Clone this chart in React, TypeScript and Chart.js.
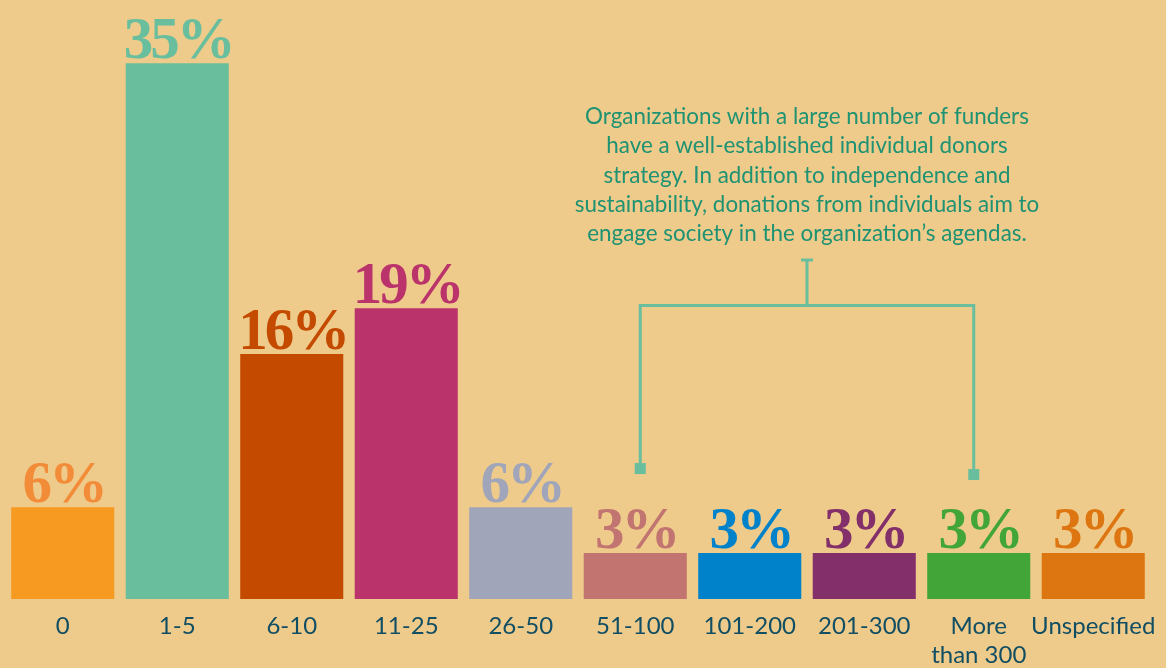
import { useEffect, useRef } from 'react';
import { Chart, registerables } from 'chart.js';

Chart.register(...registerables);

const categories: (string | string[])[] = ['0', '1-5', '6-10', '11-25', '26-50', '51-100', '101-200', '201-300', ['More', 'than 300'], 'Unspecified'];
const values = [6, 35, 16, 19, 6, 3, 3, 3, 3, 3];
const valueLabels = ['6%', '35%', '16%', '19%', '6%', '3%', '3%', '3%', '3%', '3%'];
const barColors = ['#F69A22', '#69BF9D', '#C44A00', '#BA336B', '#A0A5BA', '#C27570', '#0082CB', '#832F69', '#41A637', '#DD7611'];
const labelColors = ['#F28C38', '#69BF9D', '#C44A00', '#BA336B', '#A0A5BA', '#C27570', '#0082CB', '#832F69', '#41A637', '#DD7611'];
const noteLines = [
  'Organizations with a large number of funders',
  'have a well-established individual donors',
  'strategy. In addition to independence and',
  'sustainability, donations from individuals aim to',
  'engage society in the organization\u2019s agendas.',
];

const BG = '#EECB8B';
const BRACKET = '#69BF9D';
const NOTE = '#1E9272';

const bgPlugin = {
  id: 'bg',
  beforeDraw(chart: any) {
    const ctx = chart.ctx;
    ctx.save();
    ctx.fillStyle = BG;
    ctx.fillRect(0, 0, chart.width, chart.height);
    ctx.restore();
  },
};

const labelPlugin = {
  id: 'valueLabels',
  afterDatasetsDraw(chart: any) {
    const ctx = chart.ctx;
    const meta = chart.getDatasetMeta(0);
    ctx.save();
    ctx.font = 'bold 59px "Liberation Serif", "Times New Roman", serif';
    try {
      (ctx as any).letterSpacing = '-3px';
    } catch (e) {}
    ctx.textAlign = 'center';
    ctx.textBaseline = 'alphabetic';
    meta.data.forEach((bar: any, i: number) => {
      ctx.fillStyle = labelColors[i];
      ctx.fillText(valueLabels[i], bar.x + 1, bar.y - 5);
    });
    ctx.restore();
  },
};

const notePlugin = {
  id: 'note',
  afterDraw(chart: any) {
    const ctx = chart.ctx;
    const xs = chart.scales.x;
    const ys = chart.scales.y;
    const leftX = xs.getPixelForValue(5) + 5;
    const rightX = xs.getPixelForValue(8) - 5;
    const midX = (leftX + rightX) / 2;
    const tTop = ys.getPixelForValue(22.14);
    const hY = ys.getPixelForValue(19.17);
    const leftEnd = ys.getPixelForValue(8.88);
    const rightEnd = ys.getPixelForValue(8.49);
    ctx.save();
    ctx.strokeStyle = BRACKET;
    ctx.fillStyle = BRACKET;
    ctx.lineWidth = 3;
    ctx.beginPath();
    ctx.moveTo(midX - 6, tTop);
    ctx.lineTo(midX + 6, tTop);
    ctx.moveTo(midX, tTop);
    ctx.lineTo(midX, hY);
    ctx.moveTo(leftX, leftEnd);
    ctx.lineTo(leftX, hY);
    ctx.lineTo(rightX, hY);
    ctx.lineTo(rightX, rightEnd);
    ctx.stroke();
    ctx.fillRect(leftX - 5.5, leftEnd, 11, 11);
    ctx.fillRect(rightX - 5.5, rightEnd, 11, 11);

    ctx.fillStyle = NOTE;
    ctx.font = '22.4px Lato';
    ctx.textAlign = 'center';
    ctx.textBaseline = 'middle';
    const lh = 29.3;
    const lastY = tTop - 26;
    noteLines.forEach((line, i) => {
      ctx.fillText(line, midX, lastY - (noteLines.length - 1 - i) * lh);
    });
    ctx.restore();
  },
};

export default function App() {
  const ref = useRef<HTMLCanvasElement>(null);
  useEffect(() => {
    if (!ref.current) return;
    const chart = new Chart(ref.current, {
      type: 'bar',
      data: {
        labels: categories as any,
        datasets: [
          {
            data: values,
            backgroundColor: barColors,
            borderWidth: 0,
            categoryPercentage: 0.9,
            barPercentage: 1,
          },
        ],
      },
      options: {
        animation: false,
        responsive: false,
        maintainAspectRatio: false,
        layout: { padding: { left: 5.5, right: 15.5, top: 2, bottom: 0 } },
        plugins: { legend: { display: false }, tooltip: { enabled: false } },
        scales: {
          x: {
            grid: { display: false, drawTicks: false },
            border: { display: false },
            ticks: {
              color: '#124E63',
              font: { family: 'Lato', size: 24, lineHeight: 1.2 },
              padding: 13,
              maxRotation: 0,
              autoSkip: false,
            },
            afterFit(scale: any) {
              scale.height = 69;
              scale.paddingRight = 0;
              scale.paddingLeft = 0;
            },
          },
          y: {
            display: false,
            min: 0,
            max: 39,
          },
        },
      },
      plugins: [bgPlugin, labelPlugin, notePlugin],
    });
    return () => chart.destroy();
  }, []);
  return (
    <div style={{ position: 'fixed', left: 0, top: 0, width: 1166, height: 668, background: BG }}>
      <canvas ref={ref} width={1166} height={668} style={{ display: 'block' }} />
    </div>
  );
}
